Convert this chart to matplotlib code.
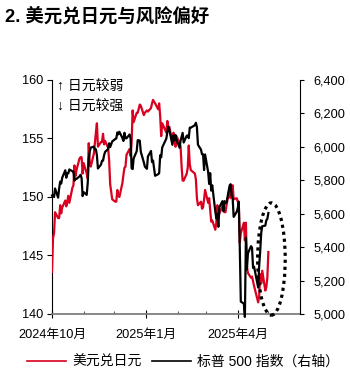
import matplotlib
matplotlib.use("Agg")
import matplotlib.pyplot as plt
import matplotlib.dates as mdates
from matplotlib.patches import Ellipse
from matplotlib.lines import Line2D
import matplotlib.ticker as mticker
import pandas as pd
import numpy as np

FAM = ['Liberation Sans', 'Noto Sans CJK SC', 'DejaVu Sans']
plt.rcParams['font.family'] = FAM

# ---------------- data ----------------
start_date = '2024-10-01'
end_date = '2025-05-01'
holidays = ['2024-11-28', '2024-12-25', '2025-01-01', '2025-01-09',
            '2025-01-20', '2025-02-17', '2025-04-18']

usdjpy = [
    # Oct 2024
    143.6, 146.5, 146.9, 148.7, 148.2, 148.2, 149.3, 148.6, 149.1, 149.7,
    149.2, 149.6, 150.1, 149.5, 150.8, 151.0, 152.7, 151.8, 152.3, 153.3,
    153.4, 153.4, 152.0,
    # Nov
    152.9, 152.0, 151.6, 154.6, 152.9, 152.6, 153.7, 154.6, 155.5, 156.3,
    154.3, 154.7, 154.7, 155.4, 154.5, 154.8, 154.2, 153.1, 151.1, 149.8,
    # Dec
    149.6, 149.6, 150.6, 150.1, 150.0, 151.2, 151.9, 152.5, 152.6, 153.6,
    154.1, 153.5, 154.6, 157.4, 156.4, 157.2, 157.2, 157.9, 157.8, 157.0,
    157.2,
    # Jan 2025
    157.4, 157.3, 157.6, 158.0, 158.3, 158.0, 157.5, 158.0, 156.9, 155.2,
    156.3, 155.5, 156.5, 156.0, 156.0, 154.6, 155.5, 155.2, 154.3, 155.2,
    # Feb
    154.6, 154.3, 152.6, 151.4, 151.4, 152.0, 152.5, 154.4, 152.8, 152.3,
    152.0, 151.5, 149.9, 149.3, 149.6, 149.0, 149.1, 149.8, 150.6,
    # Mar
    149.5, 149.9, 148.9, 147.9, 148.0, 147.2, 147.8, 149.3, 148.3, 148.6,
    149.2, 149.3, 148.7, 148.7, 149.3, 150.7, 149.9, 150.6, 151.0, 149.8,
    149.9,
    # Apr
    149.6, 149.6, 146.1, 146.9, 147.8, 146.3, 147.8, 144.0, 143.5, 143.1,
    143.2, 142.8, 142.4, 141.0, 141.5, 143.4, 142.6, 143.7, 142.0, 142.3,
    143.1,
    # May
    145.3,
]

spx = [
    # Oct 2024
    5708.75, 5709.54, 5699.94, 5751.07, 5695.94, 5751.13, 5792.04, 5780.05,
    5815.03, 5859.85, 5815.26, 5842.47, 5841.47, 5864.67, 5853.98, 5851.20,
    5797.42, 5809.86, 5808.12, 5823.52, 5832.92, 5813.67, 5705.45,
    # Nov
    5728.80, 5712.69, 5782.76, 5929.04, 5973.10, 5995.54, 6001.35, 5983.99,
    5985.38, 5949.17, 5870.62, 5893.62, 5916.98, 5917.11, 5948.71, 5969.34,
    5987.37, 6021.63, 5998.74, 6032.38,
    # Dec
    6047.15, 6049.88, 6086.49, 6075.11, 6090.27, 6052.85, 6034.91, 6084.19,
    6051.25, 6051.09, 6074.08, 6050.61, 5872.16, 5867.08, 5930.85, 5974.07,
    6040.04, 6037.59, 5970.84, 5906.94, 5881.63,
    # Jan 2025
    5868.55, 5942.47, 5975.38, 5909.03, 5918.25, 5827.04, 5836.22, 5842.91,
    5949.91, 5937.34, 5996.66, 6049.24, 6086.37, 6118.71, 6101.24, 6012.28,
    6067.70, 6039.31, 6071.17, 6040.53,
    # Feb
    5994.57, 6037.88, 6061.48, 6083.57, 6025.99, 6066.44, 6068.50, 6051.97,
    6115.07, 6114.63, 6129.58, 6144.15, 6117.52, 6013.13, 5983.25, 5955.25,
    5956.06, 5861.57, 5954.50,
    # Mar
    5849.72, 5778.15, 5842.63, 5738.52, 5770.20, 5614.56, 5572.07, 5599.30,
    5521.52, 5638.94, 5675.12, 5614.66, 5675.29, 5662.89, 5667.56, 5767.57,
    5776.65, 5712.20, 5693.31, 5580.94, 5611.85,
    # Apr
    5633.07, 5670.97, 5396.52, 5074.08, 5062.25, 4982.77, 5456.90, 5268.05,
    5363.36, 5405.97, 5396.63, 5275.70, 5282.70, 5158.20, 5287.76, 5375.86,
    5484.77, 5525.21, 5528.75, 5560.83, 5569.06,
    # May
    5604.14,
]

series_labels = ['美元兑日元', '标普 500 指数（右轴）']
xtick_labels = ['2024年10月', '2025年1月', '2025年4月']
title = '2. 美元兑日元与风险偏好'
note_lines = ['↑ 日元较弱', '↓ 日元较强']

dates = pd.bdate_range(start_date, end_date)
dates = dates[~dates.isin(pd.to_datetime(holidays))]

# ---------------- figure ----------------
W, H = 350, 373
fig = plt.figure(figsize=(W / 100, H / 100), dpi=100)
ax1 = fig.add_axes([52 / W, 1 - 314 / H, (300 - 52) / W, (314 - 80) / H])
ax2 = ax1.twinx()

red = '#DA0020'
ax1.plot(dates, usdjpy, color=red, lw=1.6, zorder=3)
ax2.plot(dates, spx, color='black', lw=1.6, zorder=3, clip_on=False)

ax1.set_ylim(140, 160)
ax1.set_yticks([140, 145, 150, 155, 160])
ax2.set_ylim(5000, 6400)
ax2.set_yticks(np.arange(5000, 6401, 200))
ax2.yaxis.set_major_formatter(mticker.StrMethodFormatter('{x:,.0f}'))

ax1.set_xlim(pd.Timestamp('2024-10-01'), pd.Timestamp('2025-06-01'))
ax1.set_xticks(pd.to_datetime(['2024-10-01', '2025-01-01', '2025-04-01']))
ax1.set_xticklabels(xtick_labels)
ax1.set_xticks(pd.to_datetime(['2024-11-01', '2024-12-01', '2025-02-01',
                               '2025-03-01', '2025-05-01', '2025-06-01']), minor=True)

for ax in (ax1, ax2):
    ax.spines['top'].set_visible(False)
    ax.patch.set_visible(False)
ax1.spines['left'].set_linewidth(0.8)
ax1.spines['right'].set_visible(False)
ax2.spines['left'].set_visible(False)
ax2.spines['bottom'].set_visible(False)
ax2.spines['right'].set_linewidth(0.8)
ax1.spines['bottom'].set_color('#7f7f7f')
ax1.spines['bottom'].set_linewidth(1.3)

ax1.tick_params(axis='y', direction='out', length=3.5, width=0.8, pad=2.5, labelsize=9.2)
ax2.tick_params(axis='y', direction='out', length=3, width=0.8, pad=6.5, labelsize=9.2)
ax1.tick_params(axis='x', which='major', direction='inout', length=6, width=0.8,
                pad=7.5, labelsize=9.2, color='black')
ax1.tick_params(axis='x', which='minor', direction='in', length=2.5, width=0.8,
                color='#555555')

# dotted ellipse
ell = Ellipse((mdates.date2num(pd.Timestamp('2025-05-04')), 144.7),
              width=27, height=9.6, fill=False, edgecolor='black',
              lw=2.3, linestyle=(0, (1, 1.2)), clip_on=False, zorder=5)
ax1.add_patch(ell)

# title and notes
fig.text(5 / W, 1 - 16 / H, title, fontsize=13.2, fontweight='bold',
         va='center', ha='left')
fig.text(57 / W, 1 - 86 / H, note_lines[0], fontsize=10, va='center', ha='left')
fig.text(57 / W, 1 - 106 / H, note_lines[1], fontsize=10, va='center', ha='left')

handles = [Line2D([], [], color=red, lw=1.2), Line2D([], [], color='black', lw=1.2)]
fig.legend(handles, series_labels, loc='center left',
           bbox_to_anchor=((27 - 5.6) / W, 1 - 362 / H),
           ncol=2, frameon=False, fontsize=10.0, handlelength=2.8,
           handletextpad=0.45, columnspacing=0.75, borderaxespad=0)

fig.savefig('out.png', dpi=100)
